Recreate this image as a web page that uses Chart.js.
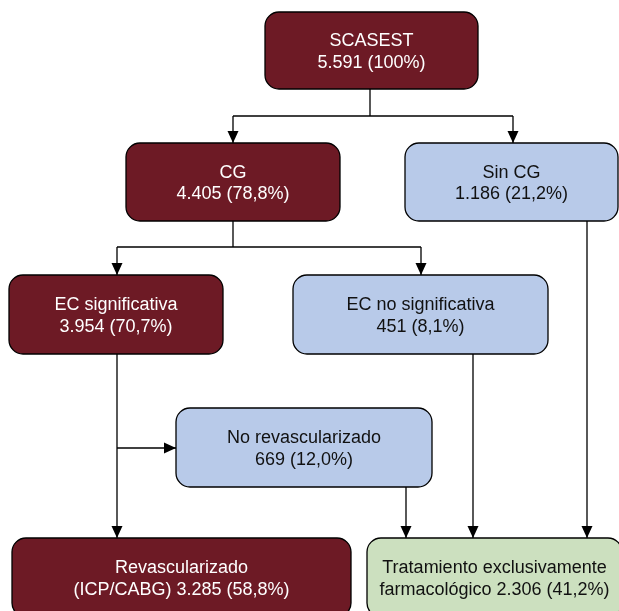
<!DOCTYPE html>
<html>
<head>
<meta charset="utf-8">
<script src="https://cdn.jsdelivr.net/npm/chart.js@4.4.1/dist/chart.umd.min.js"></script>
<style>
  html, body { margin: 0; padding: 0; background: #fff; }
  #wrap { width: 619px; height: 611px; }
</style>
</head>
<body>
<div id="wrap"><canvas id="flujo" width="619" height="611"></canvas></div>
<script>
// datos del diagrama
const nodeNames = ['SCASEST', 'CG', 'Sin CG', 'EC significativa', 'EC no significativa',
  'No revascularizado', 'Revascularizado', 'Tratamiento exclusivamente'];
const nodePrefix = ['', '', '', '', '', '', '(ICP/CABG) ', 'farmacológico '];
const nodeCounts = [5591, 4405, 1186, 3954, 451, 669, 3285, 2306];
const nodePercents = [100, 78.8, 21.2, 70.7, 8.1, 12.0, 58.8, 41.2];
const nodeKind = ['dark', 'dark', 'blue', 'dark', 'blue', 'blue', 'dark', 'green'];

// disposicion (unidades de la escala): [x0, x1, y0, y1]
const nodeBoxes = [
  [265, 478, 12, 89],
  [126, 340, 143, 221],
  [405, 618, 143, 221],
  [9, 223, 275, 354],
  [293, 548, 275, 354],
  [176, 432, 408, 487],
  [12, 351, 538, 617],
  [367, 622, 538, 617]
];

// conectores: lista de puntos, flecha al final si arrow = true
const edges = [
  { pts: [[370, 89], [370, 116]], arrow: false },
  { pts: [[233, 116], [513, 116]], arrow: false },
  { pts: [[233, 116], [233, 143]], arrow: true },
  { pts: [[513, 116], [513, 143]], arrow: true },
  { pts: [[233, 221], [233, 247]], arrow: false },
  { pts: [[117, 247], [421, 247]], arrow: false },
  { pts: [[117, 247], [117, 275]], arrow: true },
  { pts: [[421, 247], [421, 275]], arrow: true },
  { pts: [[117, 354], [117, 538]], arrow: true },
  { pts: [[117, 448], [176, 448]], arrow: true },
  { pts: [[406, 487], [406, 538]], arrow: true },
  { pts: [[473, 354], [473, 538]], arrow: true },
  { pts: [[587, 221], [587, 538]], arrow: true }
];

const fills = { dark: '#6d1a25', blue: '#b8cae9', green: '#cce0bf' };
const inks = { dark: '#ffffff', blue: '#111111', green: '#111111' };

function fmtCount(n) {
  return String(n).replace(/\B(?=(\d{3})+(?!\d))/g, '.');
}
function fmtPct(p) {
  return (p === 100 ? '100' : p.toFixed(1).replace('.', ',')) + '%';
}

const boxPlugin = {
  id: 'boxes',
  afterDatasetsDraw(chart) {
    const ctx = chart.ctx;
    const xs = chart.scales.x, ys = chart.scales.y;
    ctx.save();
    // puntas de flecha
    ctx.fillStyle = '#000';
    edges.forEach(e => {
      if (!e.arrow) return;
      const a = e.pts[e.pts.length - 2], b = e.pts[e.pts.length - 1];
      const x1 = xs.getPixelForValue(a[0]), y1 = ys.getPixelForValue(a[1]);
      const x2 = xs.getPixelForValue(b[0]), y2 = ys.getPixelForValue(b[1]);
      const ang = Math.atan2(y2 - y1, x2 - x1);
      const len = 12, half = 5.5;
      ctx.beginPath();
      ctx.moveTo(x2, y2);
      ctx.lineTo(x2 - len * Math.cos(ang) - half * Math.sin(ang), y2 - len * Math.sin(ang) + half * Math.cos(ang));
      ctx.lineTo(x2 - len * Math.cos(ang) + half * Math.sin(ang), y2 - len * Math.sin(ang) - half * Math.cos(ang));
      ctx.closePath();
      ctx.fill();
    });
    // cajas
    nodeBoxes.forEach((b, i) => {
      const x0 = xs.getPixelForValue(b[0]), x1 = xs.getPixelForValue(b[1]);
      const y0 = ys.getPixelForValue(b[2]), y1 = ys.getPixelForValue(b[3]);
      ctx.beginPath();
      ctx.roundRect(x0, y0, x1 - x0, y1 - y0, 14);
      ctx.fillStyle = fills[nodeKind[i]];
      ctx.fill();
      ctx.lineWidth = 1.3;
      ctx.strokeStyle = '#000';
      ctx.stroke();
      const cx = (x0 + x1) / 2, cy = (y0 + y1) / 2;
      ctx.fillStyle = inks[nodeKind[i]];
      ctx.font = '18px "Liberation Sans", Arial, sans-serif';
      ctx.textAlign = 'center';
      ctx.textBaseline = 'alphabetic';
      ctx.fillText(nodeNames[i], cx, cy - 4.5);
      ctx.fillText(nodePrefix[i] + fmtCount(nodeCounts[i]) + ' (' + fmtPct(nodePercents[i]) + ')', cx, cy + 17);
    });
    ctx.restore();
  }
};

const edgeSets = edges.map(e => ({
  data: e.pts.map(p => ({ x: p[0], y: p[1] })),
  showLine: true,
  borderColor: '#000',
  borderWidth: 1.3,
  pointRadius: 0,
  clip: false
}));

new Chart(document.getElementById('flujo'), {
  type: 'scatter',
  data: { datasets: edgeSets },
  options: {
    responsive: false,
    animation: false,
    layout: { padding: 0 },
    plugins: { legend: { display: false }, tooltip: { enabled: false } },
    scales: {
      x: { type: 'linear', min: 0, max: 619, display: false },
      y: { type: 'linear', min: 0, max: 611, reverse: true, display: false }
    }
  },
  plugins: [boxPlugin]
});
</script>
</body>
</html>
